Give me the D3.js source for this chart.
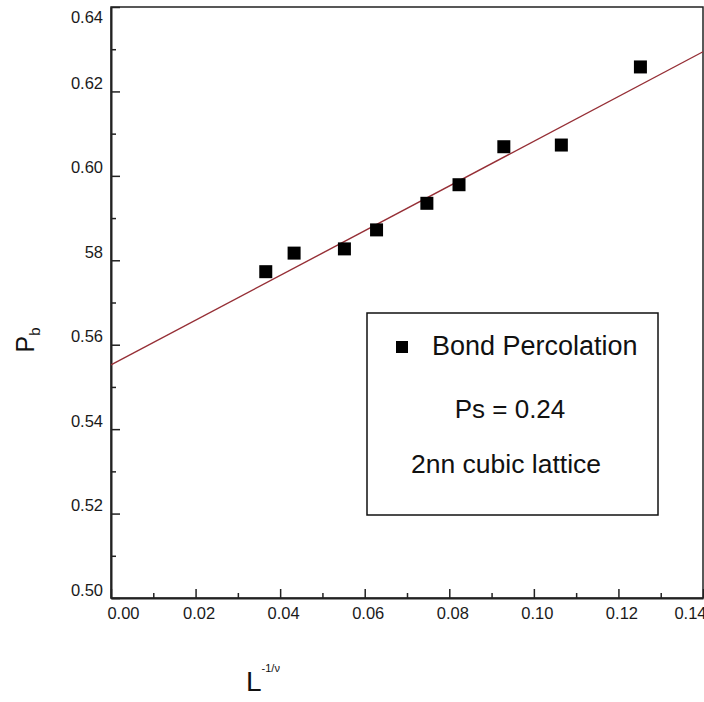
<!DOCTYPE html>
<html>
<head>
<meta charset="utf-8">
<script src="https://cdn.jsdelivr.net/npm/d3@7"></script>
<style>
  html, body { margin: 0; padding: 0; background: #fff; }
  svg { display: block; font-family: "Liberation Sans", Arial, sans-serif; }
</style>
</head>
<body>
<div id="chart"></div>
<script>
// data
const xValues = [0.0366, 0.0433, 0.0552, 0.0628, 0.0747, 0.0823, 0.0929, 0.1065, 0.1252];
const yValues = [0.5773, 0.5817, 0.5827, 0.5872, 0.5935, 0.5979, 0.6069, 0.6073, 0.6258];
const fitIntercept = 0.5552;
const fitSlope = 0.53;

const xTicks = [0, 0.02, 0.04, 0.06, 0.08, 0.10, 0.12, 0.14];
const xTickLabels = ["0.00", "0.02", "0.04", "0.06", "0.08", "0.10", "0.12", "0.14"];
const xMinor = [0.01, 0.03, 0.05, 0.07, 0.09, 0.11, 0.13];
const yTicks = [0.50, 0.52, 0.54, 0.56, 0.58, 0.60, 0.62, 0.64];
const yTickLabels = ["0.50", "0.52", "0.54", "0.56", "58", "0.60", "0.62", "0.64"];
const yMinor = [0.51, 0.53, 0.55, 0.57, 0.59, 0.61, 0.63];

const legendLines = ["Bond Percolation", "Ps = 0.24", "2nn cubic lattice"];

const width = 704, height = 702;

const svg = d3.select("#chart")
    .append("svg")
    .attr("width", width)
    .attr("height", height);

const xScale = d3.scaleLinear().domain([0, 0.14]).range([111, 703]);
const yScale = d3.scaleLinear().domain([0.50, 0.64]).range([598, 7]);

// frame (top and right)
svg.append("rect")
    .attr("x", xScale(0))
    .attr("y", yScale(0.64))
    .attr("width", xScale(0.14) - xScale(0))
    .attr("height", yScale(0.50) - yScale(0.64))
    .attr("fill", "none")
    .attr("stroke", "#222")
    .attr("stroke-width", 1.5);

// major ticks, pointing inward
const xAxis = svg.append("g")
    .attr("transform", `translate(0,${yScale(0.50)})`)
    .call(d3.axisBottom(xScale)
        .tickValues(xTicks)
        .tickSizeInner(-9)
        .tickSizeOuter(0)
        .tickPadding(9)
        .tickFormat((d, i) => xTickLabels[i]));

xAxis.select(".domain").attr("stroke", "#222").attr("stroke-width", 2);
xAxis.selectAll(".tick line").attr("stroke", "#222").attr("stroke-width", 1.5);
xAxis.selectAll(".tick text")
    .attr("font-size", 16.5)
    .attr("fill", "#1a1a1a")
    .attr("font-family", "Liberation Sans, Arial, sans-serif")
    .attr("dx", (d, i) => i === 0 ? 12 : (i === xTicks.length - 1 ? -13 : 3));

svg.append("g")
    .attr("transform", `translate(0,${yScale(0.50)})`)
    .call(d3.axisBottom(xScale).tickValues(xMinor).tickSize(-5).tickFormat(""))
    .call(g => g.select(".domain").remove())
    .selectAll(".tick line").attr("stroke", "#222").attr("stroke-width", 1.5);

const yAxis = svg.append("g")
    .attr("transform", `translate(${xScale(0)},0)`)
    .call(d3.axisLeft(yScale)
        .tickValues(yTicks)
        .tickSizeInner(-9)
        .tickSizeOuter(0)
        .tickPadding(8)
        .tickFormat((d, i) => yTickLabels[i]));

yAxis.select(".domain").attr("stroke", "#222").attr("stroke-width", 2);
yAxis.selectAll(".tick line").attr("stroke", "#222").attr("stroke-width", 1.5);
yAxis.selectAll(".tick text")
    .attr("font-size", 16.5)
    .attr("fill", "#1a1a1a")
    .attr("font-family", "Liberation Sans, Arial, sans-serif")
    .attr("x", -8)
    .attr("dy", (d, i) => i === yTicks.length - 1 ? "0.95em" : "-0.18em");

svg.append("g")
    .attr("transform", `translate(${xScale(0)},0)`)
    .call(d3.axisLeft(yScale).tickValues(yMinor).tickSize(-5).tickFormat(""))
    .call(g => g.select(".domain").remove())
    .selectAll(".tick line").attr("stroke", "#222").attr("stroke-width", 1.5);

// linear fit
const fitData = [0, 0.14].map(x => ({ x: x, y: fitIntercept + fitSlope * x }));
const line = d3.line()
    .x(d => xScale(d.x))
    .y(d => yScale(d.y));

svg.append("path")
    .datum(fitData)
    .attr("d", line)
    .style("fill", "none")
    .style("stroke", "#962f36")
    .style("stroke-width", 1.4);

// data points
const points = xValues.map((x, i) => ({ x: x, y: yValues[i] }));
const size = 13;
svg.append("g")
    .selectAll("rect")
    .data(points)
    .join("rect")
    .attr("x", d => xScale(d.x) - size / 2)
    .attr("y", d => yScale(d.y) - size / 2)
    .attr("width", size)
    .attr("height", size)
    .attr("fill", "#000");

// legend box
const legend = svg.append("g");
legend.append("rect")
    .attr("x", 367)
    .attr("y", 313)
    .attr("width", 291)
    .attr("height", 202)
    .attr("fill", "#fff")
    .attr("stroke", "#111")
    .attr("stroke-width", 1.5);

legend.append("rect")
    .attr("x", 396)
    .attr("y", 341)
    .attr("width", 12)
    .attr("height", 12)
    .attr("fill", "#000");

legend.append("text")
    .attr("x", 432)
    .attr("y", 355)
    .attr("font-size", 27)
    .attr("fill", "#111")
    .text(legendLines[0]);

legend.append("text")
    .attr("x", 510)
    .attr("y", 418)
    .attr("text-anchor", "middle")
    .attr("font-size", 26)
    .attr("fill", "#111")
    .text(legendLines[1]);

legend.append("text")
    .attr("x", 506)
    .attr("y", 473)
    .attr("text-anchor", "middle")
    .attr("font-size", 26.5)
    .attr("fill", "#111")
    .text(legendLines[2]);

// axis titles
const yTitle = svg.append("text")
    .attr("transform", "translate(34,340) rotate(-90)")
    .attr("text-anchor", "middle")
    .attr("font-size", 25)
    .attr("fill", "#111");
yTitle.append("tspan").text("P");
yTitle.append("tspan").attr("font-size", 15).attr("dy", 6).text("b");

const xTitle = svg.append("text")
    .attr("x", 246)
    .attr("y", 691)
    .attr("font-size", 28)
    .attr("fill", "#111");
xTitle.append("tspan").text("L");
xTitle.append("tspan").attr("font-size", 11).attr("dy", -19).text("-1/\u03BD");
</script>
</body>
</html>
